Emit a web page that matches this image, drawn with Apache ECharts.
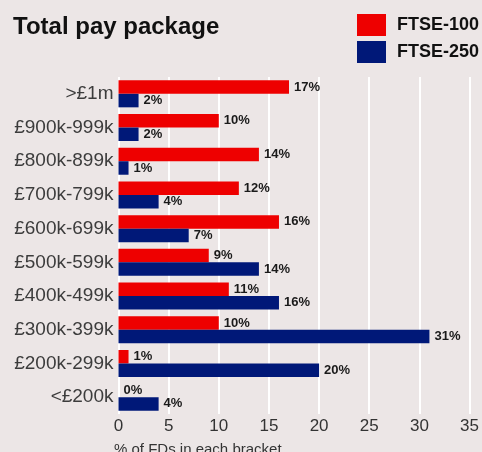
<!DOCTYPE html>
<html><head><meta charset="utf-8">
<script src="https://cdn.jsdelivr.net/npm/echarts@6/dist/echarts.min.js"></script>
<style>html,body{margin:0;padding:0;background:#ece6e6;}#c{width:482px;height:452px;}</style>
</head><body><div id="c"></div>
<script>
const categories = ['>£1m','£900k-999k','£800k-899k','£700k-799k','£600k-699k','£500k-599k','£400k-499k','£300k-399k','£200k-299k','<£200k'];
const ftse100 = [17,10,14,12,16,9,11,10,1,0];
const ftse250 = [2,2,1,4,7,14,16,31,20,4];
const xTicks = [0,5,10,15,20,25,30,35];

const chart = echarts.init(document.getElementById('c'), null, {renderer:'canvas'});
const lbl = {show:true, position:'right', distance:5, formatter:'{c}%', fontFamily:'Liberation Sans, Arial', fontWeight:'bold', fontSize:13, color:'#1a1a1a'};
chart.setOption({
  backgroundColor:'#ece6e6',
  animation:false,
  title:{text:'Total pay package', left:8, top:10, textStyle:{fontFamily:'Liberation Sans, Arial', fontWeight:'bold', fontSize:24, color:'#111'}},
  legend:{orient:'vertical', left:352, top:9, itemWidth:29, itemHeight:22, itemGap:5, icon:'rect',
    textStyle:{fontFamily:'Liberation Sans, Arial', fontWeight:'bold', fontSize:18, color:'#111', padding:[0,0,0,6]},
    data:['FTSE-100','FTSE-250']},
  grid:{left:118.5, right:10.5, top:77, bottom:38, containLabel:false},
  xAxis:{type:'value', min:xTicks[0], max:xTicks[xTicks.length-1], interval:5,
    axisLine:{show:false}, axisTick:{show:false},
    splitLine:{show:true, showMinLine:true, showMaxLine:true, lineStyle:{color:'#ffffff', width:2}},
    axisLabel:{fontFamily:'Liberation Sans, Arial', fontSize:17, color:'#333', margin:4}},
  yAxis:{type:'category', data:categories, inverse:true,
    axisLine:{show:false}, axisTick:{show:false},
    axisLabel:{fontFamily:'Liberation Sans, Arial', fontSize:19, color:'#3c3c3c', margin:5}},
  graphic:[{type:'text', left:114, top:442, style:{text:'% of FDs in each bracket', font:'15px "Liberation Sans", Arial', fill:'#333'}}],
  series:[
    {name:'FTSE-100', type:'bar', data:ftse100, itemStyle:{color:'#ee0000'}, barGap:'0%', barCategoryGap:'20%', label:lbl},
    {name:'FTSE-250', type:'bar', data:ftse250, itemStyle:{color:'#001878'}, barGap:'0%', barCategoryGap:'20%', label:lbl}
  ]
});
</script></body></html>
